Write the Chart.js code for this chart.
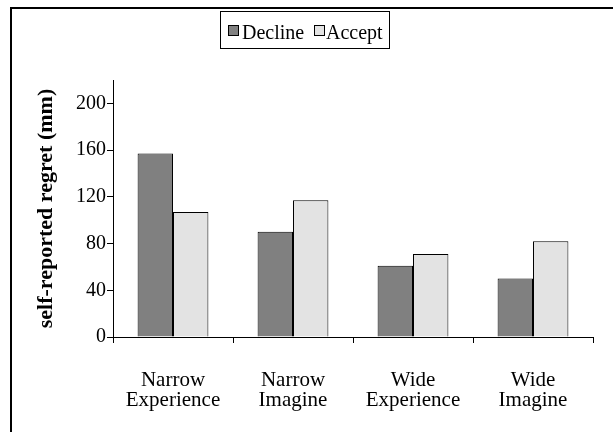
<!DOCTYPE html>
<html>
<head>
<meta charset="utf-8">
<script src="https://cdn.jsdelivr.net/npm/chart.js@4/dist/chart.umd.min.js"></script>
<style>
  html, body { margin: 0; padding: 0; background: #fff; }
  #wrap { width: 613px; height: 432px; position: relative; }
</style>
</head>
<body>
<div id="wrap"><canvas id="c" width="613" height="432"></canvas></div>
<script>
// Condition groups (two-line labels on the x axis)
const categories = [
  ['Narrow', 'Experience'],
  ['Narrow', 'Imagine'],
  ['Wide', 'Experience'],
  ['Wide', 'Imagine']
];
// Mean self-reported regret (mm) per condition
const declineValues = [157, 90, 61, 50];
const acceptValues = [107, 117, 71, 82];
// Value axis
const yTickValues = [0, 40, 80, 120, 160, 200];
const yMax = 220;

const serif = "'Liberation Serif', 'Times New Roman', serif";

// White page with the outer frame lines (left and top)
const framePlugin = {
  id: 'frame',
  beforeDraw(chart) {
    const ctx = chart.ctx;
    ctx.save();
    ctx.fillStyle = '#fff';
    ctx.fillRect(0, 0, chart.width, chart.height);
    ctx.strokeStyle = '#000';
    ctx.lineWidth = 2;
    ctx.beginPath();
    ctx.moveTo(11, chart.height + 2);
    ctx.lineTo(11, 8);
    ctx.lineTo(chart.width + 2, 8);
    ctx.stroke();
    ctx.restore();
  }
};

// Boxed legend drawn above the plot
const boxLegend = {
  id: 'boxLegend',
  afterDraw(chart) {
    const ctx = chart.ctx;
    const ds = chart.data.datasets;
    ctx.save();
    ctx.font = '20px ' + serif;
    ctx.textBaseline = 'alphabetic';
    const box = { left: 220.5, top: 11.5, right: 389.5, bottom: 48.5 };
    ctx.strokeStyle = '#000';
    ctx.lineWidth = 1;
    ctx.strokeRect(box.left, box.top, box.right - box.left, box.bottom - box.top);
    const squareX = [228.5, 314.5];
    const textX = [242, 326];
    ds.forEach((d, i) => {
      ctx.fillStyle = d.backgroundColor;
      ctx.fillRect(squareX[i], 25.5, 10, 10);
      ctx.strokeStyle = '#000';
      ctx.strokeRect(squareX[i], 25.5, 10, 10);
      ctx.fillStyle = '#000';
      ctx.fillText(d.label, textX[i], 39);
    });
    ctx.restore();
  }
};

new Chart(document.getElementById('c'), {
  type: 'bar',
  data: {
    labels: categories,
    datasets: [
      {
        label: 'Decline',
        data: declineValues,
        backgroundColor: '#808080',
        borderColor: '#000',
        borderWidth: 1,
        barPercentage: 1.0,
        categoryPercentage: 0.59
      },
      {
        label: 'Accept',
        data: acceptValues,
        backgroundColor: '#e3e3e3',
        borderColor: '#000',
        borderWidth: 1,
        barPercentage: 1.0,
        categoryPercentage: 0.59
      }
    ]
  },
  options: {
    responsive: false,
    animation: false,
    devicePixelRatio: 1,
    layout: { padding: { left: 12, right: 20, top: 80, bottom: 0 } },
    plugins: {
      legend: { display: false },
      tooltip: { enabled: false }
    },
    scales: {
      x: {
        offset: true,
        grid: {
          offset: true,
          drawOnChartArea: false,
          drawTicks: true,
          tickLength: 6,
          color: '#000'
        },
        border: { display: true, color: '#000', width: 1 },
        ticks: {
          color: '#000',
          font: { family: serif, size: 21, lineHeight: 0.98 },
          padding: 27,
          maxRotation: 0,
          autoSkip: false
        },
        afterFit(scale) { scale.height = 95; }
      },
      y: {
        min: 0,
        max: yMax,
        afterBuildTicks(scale) {
          scale.ticks = yTickValues.map(v => ({ value: v }));
        },
        grid: {
          drawOnChartArea: false,
          drawTicks: true,
          tickLength: 6,
          color: '#000'
        },
        border: { display: true, color: '#000', width: 1 },
        ticks: {
          color: '#000',
          font: { family: serif, size: 20 },
          padding: 1
        },
        title: {
          display: true,
          text: 'self-reported regret (mm)',
          color: '#000',
          font: { family: serif, size: 22, weight: 'bold', lineHeight: 1.2 },
          padding: { top: 21, bottom: 0 }
        },
        afterFit(scale) { scale.width = 101; }
      }
    }
  },
  plugins: [framePlugin, boxLegend]
});
</script>
</body>
</html>
